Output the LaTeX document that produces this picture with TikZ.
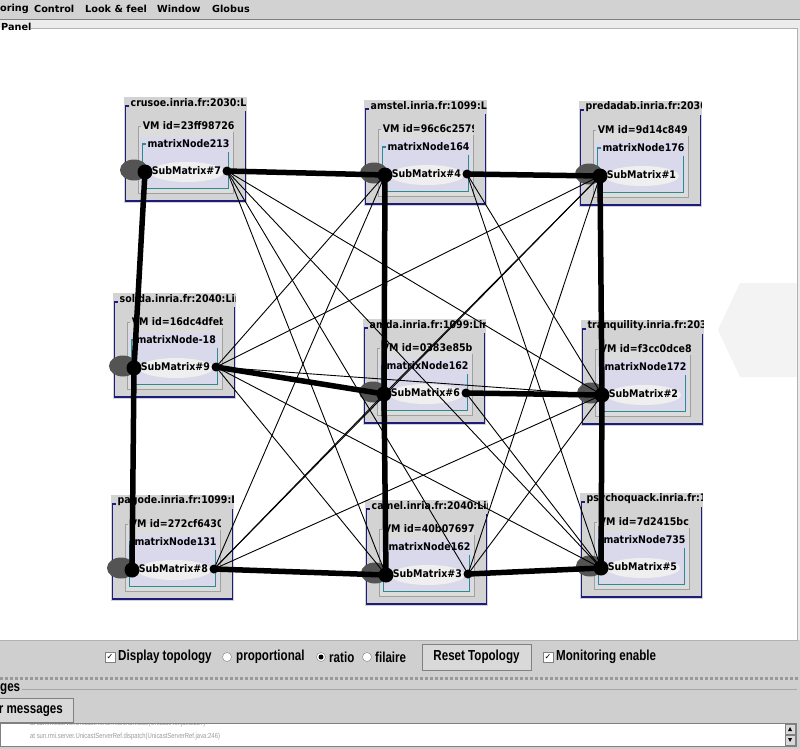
\documentclass[tikz,border=0pt]{standalone}
\usepackage{fontspec}
\setmainfont{DejaVu Sans}
\newfontfamily\boxfont[FakeStretch=0.9]{DejaVu Sans}
\newfontfamily\guifont[FakeStretch=0.8]{Liberation Sans}
\newfontfamily\symfont{DejaVu Sans}
\usetikzlibrary{calc}
\usepackage{xcolor}
\definecolor{bggray}{HTML}{CFCFCF}
\definecolor{menugray}{HTML}{D2D2D2}
\definecolor{panelbg}{HTML}{ECECEC}
\definecolor{hostgray}{HTML}{D3D3D3}
\definecolor{vmgray}{HTML}{DCDCDC}
\definecolor{vmline}{HTML}{A0A0A0}
\definecolor{lavender}{HTML}{D9D9EB}
\definecolor{ellgray}{HTML}{EFEFEF}
\definecolor{shadowgray}{HTML}{545454}
\definecolor{navy}{HTML}{1C1C7C}
\definecolor{tealline}{HTML}{2E8B8B}
\definecolor{hexgray}{HTML}{F3F3F3}
\definecolor{btngray}{HTML}{D9D9D9}
\definecolor{logtext}{HTML}{9A9A9A}

\tikzset{
  menutext/.style={anchor=west,inner sep=0pt,font=\bfseries\fontsize{9.7}{11}\selectfont},
  boxtext/.style={anchor=west,inner sep=0pt,font=\boxfont\bfseries\fontsize{10.5}{12}\selectfont},
  guitext/.style={anchor=west,inner sep=0pt,font=\guifont\bfseries\fontsize{14.5}{16}\selectfont},
  logline/.style={anchor=west,inner sep=0pt,text=logtext,font=\guifont\fontsize{7.4}{8}\selectfont},
  thickedge/.style={line width=5.5pt,line cap=round},
  thinedge/.style={line width=0.9pt},
  checkbox/.style={draw=gray,fill=white},
  radio/.style={draw=gray,fill=white},
}

% one host / VM / node / submatrix block
\newcommand{\submatrix}[6]{%
  \begin{scope}[shift={(#2,#3)}]
    \fill[hostgray] (0,0) rectangle (123,106);
    \fill[vmgray] (14,29) rectangle (109,96);
    \fill[lavender] (16,40) rectangle (107,91);
    \draw[vmline] (17,29) -- (14,29) -- (14,96) -- (109,96) -- (109,35);
    \draw[tealline,line width=1.2pt] (22,47) -- (18.7,47) -- (18.7,91.3) -- (104.7,91.3) -- (104.7,54.7);
    \draw[navy,line width=1.2pt] (5,9) -- (1.5,9) -- (1.5,104) -- (121.5,104) -- (121.5,14);
    \fill[ellgray] (63,75) ellipse [x radius=37, y radius=10];
    \fill[shadowgray] (10,73) ellipse [x radius=14, y radius=10.5];
    \begin{scope}
      \clip (0,0) rectangle (122,106);
      \node[boxtext] (host#1) at (6.5,6) {#4};
    \end{scope}
    \begin{scope}
      \clip (0,0) rectangle (109,106);
      \node[boxtext] (vm#1) at (18.7,29) {#5};
    \end{scope}
    \node[boxtext] (node#1) at (23.3,47) {#6};
    \node[boxtext] (label#1) at (27.7,74) {SubMatrix\##1};
    \coordinate (sub#1-w) at (21,75);
    \coordinate (sub#1-e) at (103,74);
  \end{scope}}

\begin{document}
\begin{tikzpicture}[x=1pt,y=-1pt]
  \useasboundingbox (0,0) rectangle (800,749);
  \fill[bggray] (0,0) rectangle (800,749);

  % menu bar
  \fill[menugray] (0,0) rectangle (800,19);
  \draw[gray,line width=1.5pt] (0,19.5) -- (800,19.5);
  \node[menutext] (monitoring) at (0,9) {oring};
  \node[menutext] (control) at (34,9) {Control};
  \node[menutext] (lookfeel) at (85,9) {Look \& feel};
  \node[menutext] (window) at (157,9) {Window};
  \node[menutext] (globus) at (212,9) {Globus};

  % panel
  \fill[panelbg] (0,20.3) rectangle (800,640);
  \fill[white] (0,28.5) rectangle (797,640);
  \draw[gray!60] (31,28) -- (797,28) -- (797,640) -- (0,640);
  \node[menutext] (panel) at (1,27) {Panel};
  \fill[hexgray] (740,283) -- (796.5,283) -- (796.5,377) -- (740,377) -- (718,330) -- cycle;

  \submatrix{7}{124}{97}{crusoe.inria.fr:2030:Li}{VM id=23ff98726}{matrixNode213}
  \submatrix{4}{364}{100}{amstel.inria.fr:1099:Li}{VM id=96c6c2579}{matrixNode164}
  \submatrix{1}{579}{101}{predadab.inria.fr:2030}{VM id=9d14c849}{matrixNode176}
  \submatrix{9}{113}{293}{solida.inria.fr:2040:Lin}{VM id=16dc4dfeb}{matrixNode-18}
  \submatrix{6}{363}{319}{amda.inria.fr:1099:Lin}{VM id=0383e85b}{matrixNode162}
  \submatrix{2}{581}{320}{tranquility.inria.fr:203}{VM id=f3cc0dce8}{matrixNode172}
  \submatrix{8}{111}{495}{pagode.inria.fr:1099:L}{VM id=272cf6430}{matrixNode131}
  \submatrix{3}{365}{500}{camel.inria.fr:2040:Lin}{VM id=40b07697}{matrixNode162}
  \submatrix{5}{580}{493}{psychoquack.inria.fr:1}{VM id=7d2415bc}{matrixNode735}

  % communications
  \foreach \a/\b in {7-e/3-e,7-e/2-w,7-e/3-w,7-e/5-w,4-w/9-e,4-w/8-e,4-e/2-w,4-e/5-w,
                     1-w/9-e,1-w/6-w,1-w/3-e,1-w/8-e,9-e/2-w,9-e/3-w,9-e/5-w,
                     6-w/8-e,6-e/5-w,2-w/8-e,2-w/3-e}
    \draw[thinedge] (sub\a) -- (sub\b);
  \draw[thickedge] (sub7-w) -- (sub9-w) -- (sub8-w);
  \draw[thickedge] (sub4-w) -- (sub6-w) -- (sub3-w);
  \draw[thickedge] (sub1-w) -- (sub2-w) -- (sub5-w);
  \draw[thickedge] (sub7-e) -- (sub4-w);
  \draw[thickedge] (sub4-e) -- (sub1-w);
  \draw[thickedge] (sub9-e) -- (sub6-w);
  \draw[thickedge] (sub6-e) -- (sub2-w);
  \draw[thickedge] (sub8-e) -- (sub3-w);
  \draw[thickedge] (sub3-e) -- (sub5-w);
  \foreach \n in {7,4,1,9,6,2,8,3,5}
    \fill (sub\n-w) circle (7.5);
  \foreach \n in {7,4,9,6,8,3}
    \fill (sub\n-e) circle (4.5);

  % topology controls
  \draw[checkbox] (105,652) rectangle (115,662);
  \node[inner sep=0pt,font=\symfont\fontsize{8}{8}\selectfont] (checkA) at (110,657) {✓};
  \node[guitext] (display) at (118,657) {Display topology};
  \draw[radio] (227,657) circle (4.5);
  \node[guitext] (proportional) at (236,657) {proportional};
  \draw[radio] (321,657) circle (4.5);
  \fill (321,657) circle (2.5);
  \node[guitext] (ratio) at (329,657) {ratio};
  \draw[radio] (367,657) circle (4.5);
  \node[guitext] (filaire) at (375,657) {filaire};
  \draw[fill=btngray,draw=gray] (422,644) rectangle (531,670);
  \node[guitext,anchor=center] (reset) at (476.5,657) {Reset Topology};
  \draw[checkbox] (543,652) rectangle (553,662);
  \node[inner sep=0pt,font=\symfont\fontsize{8}{8}\selectfont] (checkB) at (548,657) {✓};
  \node[guitext] (monitor) at (556,657) {Monitoring enable};

  % splitter
  \draw[gray!80,dotted,line width=3pt] (0,678) -- (800,678);

  % messages
  \draw[gray!70] (22,689) -- (797,689);
  \node[guitext] (messages) at (0,689) {ges};
  \draw[fill=btngray,draw=gray] (-2,698) rectangle (73,722);
  \node[guitext,anchor=east] (clear) at (63,711) {r messages};
  \draw[fill=white,draw=gray] (0,723.5) rectangle (796,746);
  \begin{scope}
    \clip (0,724) rectangle (784,745.5);
    \node[logline] (logA) at (30,724) {at sun.rmi.server.UnicastRef.unmarshalValue(UnicastRef.java:257)};
    \node[logline] (logB) at (30,737) {at sun.rmi.server.UnicastServerRef.dispatch(UnicastServerRef.java:246)};
  \end{scope}
  \draw[fill=btngray,draw=gray] (785,724) rectangle (795,734);
  \draw[fill=btngray,draw=gray] (785,735) rectangle (795,745);
  \fill (788,731) -- (792,731) -- (790,727) -- cycle;
  \fill (788,738) -- (792,738) -- (790,742) -- cycle;
\end{tikzpicture}
\end{document}
